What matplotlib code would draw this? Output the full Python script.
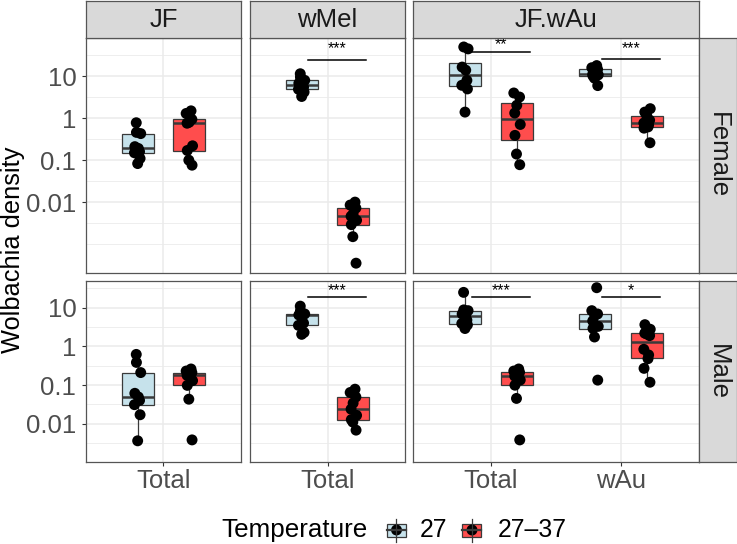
import numpy as np
import matplotlib
matplotlib.use("Agg")
import matplotlib.pyplot as plt
from matplotlib import cbook
from matplotlib.patches import Rectangle

plt.rcParams['font.family'] = ['Liberation Sans', 'DejaVu Sans']

strains = ['JF', 'wMel', 'JF.wAu']
sexes = ['Female', 'Male']
temps = ['27', '27–37']
measures = {'JF': ['Total'], 'wMel': ['Total'], 'JF.wAu': ['Total', 'wAu']}

# Female densities
f_jf_total_27 = [0.083, 0.11, 0.15, 0.16, 0.19, 0.21, 0.43, 0.46, 0.78]
f_jf_total_hot = [0.076, 0.10, 0.17, 0.22, 0.76, 0.80, 0.94, 1.3, 1.5]
f_wmel_total_27 = [3.3, 4.2, 4.9, 5.5, 6.1, 6.8, 8.0, 9.5, 11.5]
f_wmel_total_hot = [0.00035, 0.0015, 0.0029, 0.0037, 0.0046, 0.0052, 0.0072, 0.0085, 0.010]
f_jfwau_total_27 = [1.4, 5.0, 6.1, 8.0, 14, 16.6, 45, 50]
f_jfwau_total_hot = [0.078, 0.14, 0.39, 0.71, 1.33, 2.04, 3.2, 4.0]
f_jfwau_wau_27 = [6.0, 9.0, 10.2, 10.8, 11.2, 12.5, 14.7, 16, 18]
f_jfwau_wau_hot = [0.26, 0.58, 0.62, 0.70, 0.77, 0.9, 1.15, 1.4, 1.69]

# Male densities
m_jf_total_27 = [0.0036, 0.017, 0.031, 0.040, 0.049, 0.061, 0.21, 0.385, 0.62]
m_jf_total_hot = [0.0038, 0.043, 0.098, 0.13, 0.178, 0.19, 0.21, 0.23, 0.26]
m_wmel_total_27 = [2.05, 2.3, 3.5, 4.0, 6.3, 6.5, 6.9, 8.3, 11]
m_wmel_total_hot = [0.0068, 0.011, 0.0127, 0.0164, 0.0237, 0.034, 0.049, 0.064, 0.078]
m_jfwau_total_27 = [2.9, 3.6, 3.9, 4.8, 6.0, 6.9, 8.4, 8.8, 25]
m_jfwau_total_hot = [0.0038, 0.045, 0.099, 0.135, 0.17, 0.19, 0.214, 0.23, 0.26]
m_jfwau_wau_27 = [0.134, 1.75, 2.9, 3.3, 4.55, 6.3, 6.9, 8.4, 33]
m_jfwau_wau_hot = [0.118, 0.27, 0.48, 0.6, 0.84, 1.9, 2.1, 2.2, 2.77, 3.65]

data = {
    ('Female', 'JF', 'Total'): (f_jf_total_27, f_jf_total_hot),
    ('Female', 'wMel', 'Total'): (f_wmel_total_27, f_wmel_total_hot),
    ('Female', 'JF.wAu', 'Total'): (f_jfwau_total_27, f_jfwau_total_hot),
    ('Female', 'JF.wAu', 'wAu'): (f_jfwau_wau_27, f_jfwau_wau_hot),
    ('Male', 'JF', 'Total'): (m_jf_total_27, m_jf_total_hot),
    ('Male', 'wMel', 'Total'): (m_wmel_total_27, m_wmel_total_hot),
    ('Male', 'JF.wAu', 'Total'): (m_jfwau_total_27, m_jfwau_total_hot),
    ('Male', 'JF.wAu', 'wAu'): (m_jfwau_wau_27, m_jfwau_wau_hot),
}

# significance bars: sex, strain, measure, label, bar height, label height
sig_sex = ['Female', 'Female', 'Female', 'Male', 'Male', 'Male']
sig_strain = ['wMel', 'JF.wAu', 'JF.wAu', 'wMel', 'JF.wAu', 'JF.wAu']
sig_measure = ['Total', 'Total', 'wAu', 'Total', 'Total', 'wAu']
sig_label = ['***', '**', '***', '***', '***', '*']
sig_y = [24, 38, 26, 19, 19, 19]
sig_text_y = [46, 56, 46, 28, 28, 28]

yticks = [0.01, 0.1, 1, 10]
ytick_labels = ['0.01', '0.1', '1', '10']
minor_y = [10**-3, 10**-2.5, 10**-1.5, 10**-0.5, 10**0.5, 10**1.5]

fills = ['#C6E2EB', '#FF4D4D']
edge = '#3a3a3a'

W, H = 737, 544
fig = plt.figure(figsize=(W / 100, H / 100), dpi=100)

col_px = {'JF': (86, 241), 'wMel': (250, 405), 'JF.wAu': (413, 699)}
row_px = {'Female': (37.7, 273), 'Male': (280.7, 462.3)}
row_ylim = {'Female': (10**-3.69, 10**1.92), 'Male': (10**-2.63, 10**1.70)}


def px_axes(x0, x1, y0, y1):
    return fig.add_axes([x0 / W, 1 - y1 / H, (x1 - x0) / W, (y1 - y0) / H])


axes = {}
for sex in sexes:
    for strain in strains:
        x0, x1 = col_px[strain]
        y0, y1 = row_px[sex]
        ax = px_axes(x0, x1, y0, y1)
        axes[(sex, strain)] = ax
        cats = measures[strain]
        ax.set_yscale('log')
        ax.set_xlim(0.4, len(cats) + 0.6)
        ax.set_ylim(*row_ylim[sex])
        ax.set_yticks(yticks)
        ax.set_yticks(minor_y, minor=True)
        ax.set_xticks(range(1, len(cats) + 1))
        ax.grid(which='major', color='#EBEBEB', lw=1.1, zorder=0)
        ax.grid(which='minor', axis='y', color='#EBEBEB', lw=0.6, zorder=0)
        ax.set_axisbelow(True)
        ax.tick_params(which='minor', length=0, labelleft=False)
        for s in ax.spines.values():
            s.set_color('#555555')
            s.set_linewidth(0.9)

        if strain == 'JF':
            ax.set_yticklabels(ytick_labels)
            ax.tick_params(axis='y', which='major', length=3, width=0.8,
                           color='#333333', pad=4, labelsize=18.5,
                           labelcolor='#4D4D4D')
        else:
            ax.tick_params(axis='y', which='major', length=0, labelleft=False)
        if sex == 'Male':
            ax.set_xticklabels(cats)
            ax.tick_params(axis='x', length=3, width=0.8, color='#333333',
                           pad=1.5, labelsize=18.5, labelcolor='#4D4D4D')
        else:
            ax.tick_params(axis='x', length=0, labelbottom=False)

        for ci, m in enumerate(cats):
            pos = ci + 1
            for ti, vals in enumerate(data[(sex, strain, m)]):
                xc = pos - 0.2 if ti == 0 else pos + 0.2
                st = cbook.boxplot_stats(np.log10(vals), whis=1.5)[0]
                for k in ['med', 'q1', 'q3', 'whislo', 'whishi', 'mean', 'cilo', 'cihi']:
                    st[k] = 10 ** st[k]
                st['fliers'] = []
                ax.bxp([st], positions=[xc], widths=0.25, showfliers=False,
                       showcaps=False, patch_artist=True,
                       boxprops=dict(facecolor=fills[ti], edgecolor=edge, lw=0.9),
                       medianprops=dict(color=edge, lw=1.8),
                       whiskerprops=dict(color=edge, lw=0.9),
                       manage_ticks=False, zorder=2)
                n = len(vals)
                jit = 0.025 * np.sin(np.arange(n) * 2.3 + ti + ci)
                ax.scatter(xc + jit, vals, s=62, color='black', zorder=3,
                           edgecolors='none')

for i in range(len(sig_label)):
    ax = axes[(sig_sex[i], sig_strain[i])]
    pos = measures[sig_strain[i]].index(sig_measure[i]) + 1
    ax.plot([pos - 0.15, pos + 0.3], [sig_y[i], sig_y[i]], color='black', lw=1.1, zorder=4)
    ax.text(pos + 0.075, sig_text_y[i], sig_label[i], ha='center', va='center',
            fontsize=11.5, color='black')

# strips
for strain in strains:
    x0, x1 = col_px[strain]
    sax = px_axes(x0, x1, 1, 37.7)
    sax.set_facecolor('#D9D9D9')
    sax.set_xticks([])
    sax.set_yticks([])
    for s in sax.spines.values():
        s.set_color('#555555')
        s.set_linewidth(0.9)
    sax.text(0.5, 0.47, strain, ha='center', va='center', fontsize=18.5,
             color='#1A1A1A', transform=sax.transAxes)
for sex in sexes:
    y0, y1 = row_px[sex]
    sax = px_axes(699, 736.5, y0, y1)
    sax.set_facecolor('#D9D9D9')
    sax.set_xticks([])
    sax.set_yticks([])
    for s in sax.spines.values():
        s.set_color('#555555')
        s.set_linewidth(0.9)
    sax.text(0.5, 0.5, sex, ha='center', va='center', fontsize=18.5,
             color='#1A1A1A', rotation=-90, transform=sax.transAxes)

fig.text(13 / W, 1 - 250 / H, 'Wolbachia density', rotation=90, ha='center',
         va='center', fontsize=18.3)

# legend drawn in pixel coordinates
lax = fig.add_axes([0, 0, 1, 1])
lax.set_xlim(0, W)
lax.set_ylim(H, 0)
lax.axis('off')
lax.text(221.7, 530, 'Temperature', ha='left', va='center', fontsize=18.7)
key_x = [396.5, 472]
text_x = [420, 497.5]
for ti in range(2):
    kx = key_x[ti]
    lax.plot([kx, kx], [518.5, 541.5], color=edge, lw=0.9)
    lax.add_patch(Rectangle((kx - 9.5, 523.5), 19, 13, facecolor=fills[ti],
                            edgecolor=edge, lw=0.9))
    lax.plot([kx - 9.5, kx + 9.5], [530, 530], color=edge, lw=1.6)
    lax.scatter([kx], [530], s=62, color='black', edgecolors='none')
    lax.text(text_x[ti], 530, temps[ti], ha='left', va='center', fontsize=17.8)

fig.savefig('out.png', dpi=100)
